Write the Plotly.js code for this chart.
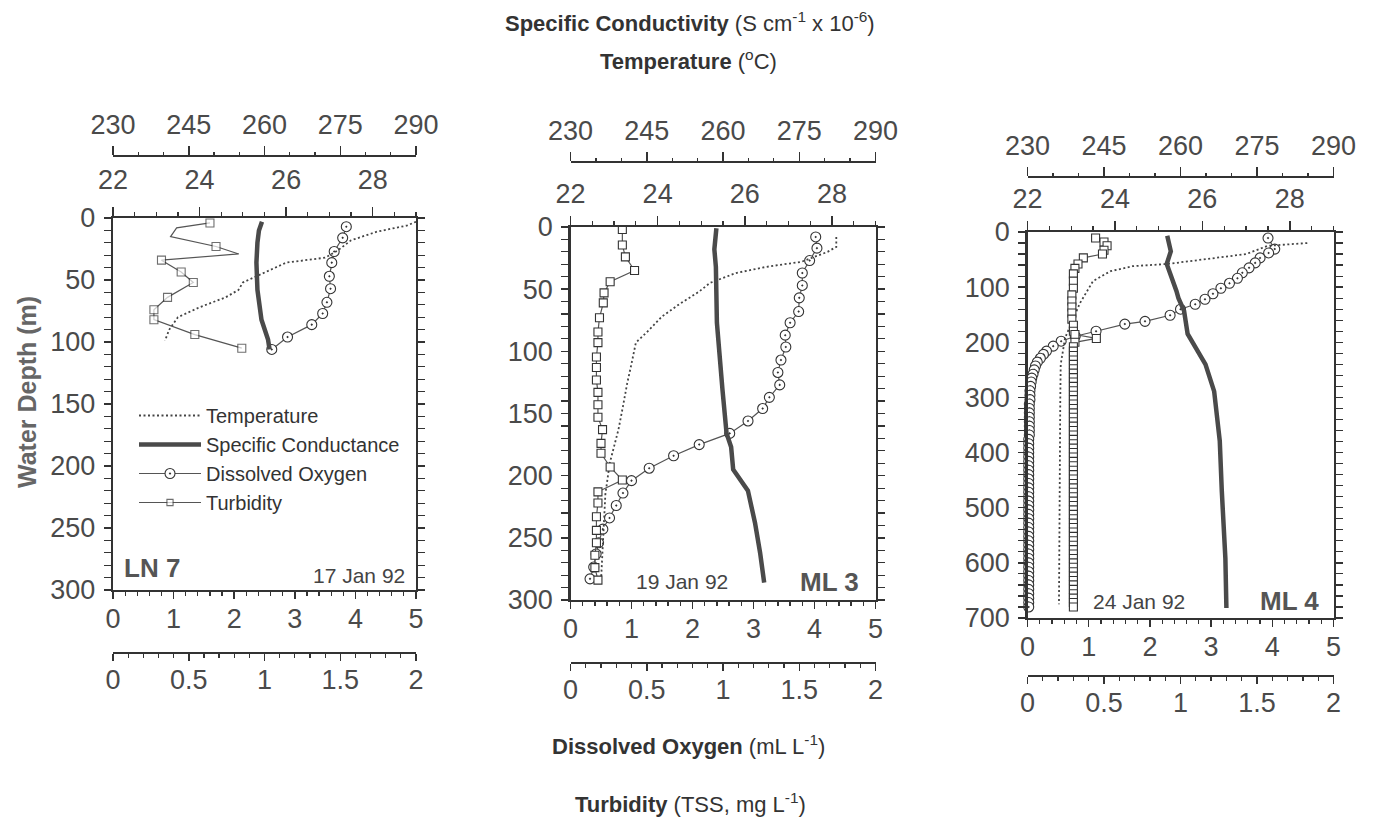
<!DOCTYPE html>
<html><head><meta charset="utf-8">
<script src="https://cdn.plot.ly/plotly-3.0.1.min.js"></script>
<style>html,body{margin:0;padding:0;background:#fff}#chart{width:1377px;height:834px}</style>
</head><body><div id="chart"></div>
<script>
// ---------------- DATA ----------------
// LN 7 (17 Jan 92)
const ln7TempDepth = [3, 6, 11, 18, 26, 32, 36, 44, 52, 58, 64, 72, 80, 90, 99];
const ln7Temp      = [29.0, 28.8, 28.1, 27.5, 27.2, 26.9, 26.0, 25.5, 25.0, 24.9, 24.6, 24.0, 23.5, 23.3, 23.2];
const ln7CondDepth = [3, 10, 20, 36, 58, 82, 98, 106];
const ln7Cond      = [259.5, 258.9, 258.6, 258.4, 258.6, 259.4, 260.7, 261.0];
const ln7DODepth   = [7, 16, 27, 36, 47, 57, 68, 77, 86, 96, 106];
const ln7DO        = [3.85, 3.79, 3.65, 3.61, 3.57, 3.59, 3.53, 3.46, 3.28, 2.88, 2.62];
const ln7TurbDepth = [4, 8, 15, 23, 29, 34, 43.5, 52, 64, 74, 82, 94, 105];
const ln7Turb      = [0.64, 0.42, 0.38, 0.68, 0.83, 0.32, 0.45, 0.53, 0.36, 0.27, 0.27, 0.54, 0.85];
const ln7TurbSampled = [1, 0, 0, 1, 0, 1, 1, 1, 1, 1, 1, 1, 1];

// ML 3 (19 Jan 92)
const ml3TempDepth = [8, 16, 20, 28, 32, 37, 45, 52, 62, 72, 83, 93, 110, 126, 145, 163, 190, 215, 250, 285];
const ml3Temp      = [28.1, 28.1, 27.9, 27.3, 26.5, 25.8, 25.2, 24.95, 24.5, 24.1, 23.8, 23.5, 23.4, 23.3, 23.2, 23.1, 22.9, 22.8, 22.75, 22.7];
const ml3CondDepth = [1, 18, 32, 51, 77, 131, 166, 177, 195, 212, 238, 262, 286];
const ml3Cond      = [258.7, 258.3, 258.6, 258.6, 258.8, 259.9, 260.7, 261.6, 262.0, 264.9, 266.3, 267.3, 268.1];
const ml3DODepth   = [8, 17, 27, 37, 47, 57, 68, 77, 87, 96.5, 107, 117, 127, 137, 146, 156, 166, 175, 184, 194, 204, 214, 224, 234, 243, 254, 263, 273.5, 283];
const ml3DO        = [4.02, 4.04, 3.92, 3.80, 3.80, 3.75, 3.74, 3.60, 3.52, 3.53, 3.45, 3.40, 3.43, 3.26, 3.15, 2.91, 2.61, 2.11, 1.69, 1.29, 1.00, 0.86, 0.75, 0.64, 0.53, 0.46, 0.42, 0.38, 0.32];
const ml3TurbDepth = [2, 14.5, 24, 35, 44, 53, 61, 73, 84.5, 93, 104.5, 113, 123, 133, 143, 153, 163, 174, 182, 193, 203.5, 213, 222, 233, 244, 254, 264, 274, 284];
const ml3Turb      = [0.34, 0.34, 0.36, 0.42, 0.26, 0.22, 0.215, 0.19, 0.18, 0.18, 0.17, 0.17, 0.17, 0.18, 0.18, 0.18, 0.21, 0.20, 0.20, 0.26, 0.34, 0.18, 0.18, 0.17, 0.17, 0.17, 0.16, 0.16, 0.18];

// ML 4 (24 Jan 92)
const ml4TempDepth = [20, 25, 40, 49, 58, 62, 71, 89, 129, 192, 240, 300, 400, 500, 600, 675];
const ml4Temp      = [28.4, 27.5, 27.0, 26.1, 25.2, 24.4, 23.9, 23.5, 23.2, 22.86, 22.76, 22.75, 22.74, 22.73, 22.73, 22.72];
const ml4CondDepth = [7, 35, 58, 84, 107, 120, 143, 185, 210, 240, 289, 379, 470, 592, 682];
const ml4Cond      = [257.4, 258.1, 257.3, 258.4, 259.2, 259.6, 260.7, 261.4, 263.0, 264.9, 266.6, 267.7, 268.1, 268.8, 269.0];
const ml4DODepth   = [11, 31, 38, 47, 56, 65, 74, 84, 93, 102, 112, 122, 131, 140, 151, 162, 167, 180, 189, 198,
                      207, 216, 222, 229, 236, 243, 250, 258, 265, 272, 280, 288,
                      296, 304, 312, 320, 328, 336, 344, 352, 360, 368, 376, 384, 392, 400, 408, 416, 424, 432,
                      440, 448, 456, 464, 472, 480, 488, 496, 504, 512, 520, 528, 536, 544, 552, 560, 568, 576,
                      584, 592, 600, 608, 616, 624, 632, 640, 648, 656, 664, 672, 680];
const ml4DO        = [3.93, 4.04, 3.94, 3.80, 3.72, 3.62, 3.51, 3.43, 3.30, 3.16, 3.03, 2.90, 2.74, 2.50, 2.33, 1.92, 1.59, 1.12, 0.78, 0.55,
                      0.42, 0.31, 0.26, 0.21, 0.16, 0.13, 0.11, 0.09, 0.07, 0.06, 0.05, 0.04,
                      0.04, 0.04, 0.03, 0.03, 0.03, 0.03, 0.03, 0.03, 0.03, 0.03, 0.02, 0.02, 0.02, 0.02, 0.02, 0.02, 0.02, 0.02,
                      0.02, 0.02, 0.02, 0.02, 0.02, 0.02, 0.02, 0.02, 0.02, 0.02, 0.02, 0.02, 0.02, 0.02, 0.02, 0.02, 0.02, 0.02,
                      0.02, 0.02, 0.02, 0.02, 0.02, 0.02, 0.02, 0.02, 0.02, 0.02, 0.02, 0.02, 0.02];
const ml4TurbDepth = [11, 18, 25, 33, 40, 47, 58, 66, 76, 89, 102, 114, 125, 136, 147, 158, 169, 180, 186, 193,
                      200, 208, 216, 224, 232, 240, 248, 256, 264, 272, 280, 288,
                      296, 304, 312, 320, 328, 336, 344, 352, 360, 368, 376, 384, 392, 400, 408, 416, 424, 432,
                      440, 448, 456, 464, 472, 480, 488, 496, 504, 512, 520, 528, 536, 544, 552, 560, 568, 576,
                      584, 592, 600, 608, 616, 624, 632, 640, 648, 656, 664, 672, 680];
const ml4Turb      = [0.445, 0.50, 0.52, 0.50, 0.49, 0.365, 0.33, 0.31, 0.30, 0.30, 0.30, 0.29, 0.29, 0.29, 0.29, 0.29, 0.30, 0.30, 0.31, 0.45,
                      0.31, 0.30, 0.30, 0.30, 0.30, 0.30, 0.30, 0.30, 0.30, 0.30, 0.30, 0.30,
                      0.30, 0.30, 0.30, 0.30, 0.30, 0.30, 0.30, 0.30, 0.30, 0.30, 0.30, 0.30, 0.30, 0.30, 0.30, 0.30, 0.30, 0.30,
                      0.30, 0.30, 0.30, 0.30, 0.30, 0.30, 0.30, 0.30, 0.30, 0.30, 0.30, 0.30, 0.30, 0.30, 0.30, 0.30, 0.30, 0.30,
                      0.30, 0.30, 0.30, 0.30, 0.30, 0.30, 0.30, 0.30, 0.30, 0.30, 0.30, 0.30, 0.30];

const stationNames = ['LN 7', 'ML 3', 'ML 4'];
const stationDates = ['17 Jan 92', '19 Jan 92', '24 Jan 92'];
const legendNames  = ['Temperature', 'Specific Conductance', 'Dissolved Oxygen', 'Turbidity'];
const depthMax     = [300, 300, 700];

// ---------------- LAYOUT ----------------
const W = 1377, H = 834;
const fx = p => p / W;
const fy = p => 1 - p / H;
const FONT = '"Liberation Sans", Arial, Helvetica, sans-serif';
const INK = '#333';
const LBL = '#4a4a4a';

const geo = [
  {x0: 113,   x1: 416,   y0: 218, y1: 590, ydt: 50,  ymn: 10, condY: 156, turbY: 653,
   nameX: 122, nameY: 568, dateX: 407, dateY: 575, nameAnchor: 'left', dateAnchor: 'right'},
  {x0: 570.5, x1: 875.5, y0: 227, y1: 600, ydt: 50,  ymn: 10, condY: 162, turbY: 663,
   nameX: 861, nameY: 582, dateX: 634, dateY: 581, nameAnchor: 'right', dateAnchor: 'left'},
  {x0: 1027.5,x1: 1333.5,y0: 232, y1: 618, ydt: 100, ymn: 20, condY: 177, turbY: 676,
   nameX: 1321, nameY: 601, dateX: 1091, dateY: 601, nameAnchor: 'right', dateAnchor: 'left'}
];

function mkAxis(o) {
  const minor = {ticks: 'outside', ticklen: 3.5, tickcolor: INK, tickwidth: 1.2, showgrid: false, dtick: o.minorDtick};
  const a = {
    showline: true, linecolor: INK, linewidth: 2.2,
    ticks: 'outside', tickcolor: INK, tickwidth: 1.5, ticklen: 7,
    showgrid: false, zeroline: false, fixedrange: true,
    tickfont: {family: FONT, size: 27, color: LBL},
    minor: minor
  };
  delete o.minorDtick;
  return Object.assign(a, o);
}

const layout = {
  width: W, height: H,
  margin: {l: 0, r: 0, t: 0, b: 0},
  paper_bgcolor: '#fff', plot_bgcolor: 'rgba(0,0,0,0)',
  font: {family: FONT, color: INK},
  showlegend: true,
  legend: {x: fx(134), y: fy(396), xanchor: 'left', yanchor: 'top', bgcolor: 'rgba(0,0,0,0)',
           font: {family: FONT, size: 20, color: '#333'}, itemwidth: 62, tracegroupgap: 0},
  annotations: []
};

geo.forEach((g, i) => {
  const n = 4 * i;
  const xid = k => (k === 1 ? 'x' : 'x' + k);
  const xkey = k => (k === 1 ? 'xaxis' : 'xaxis' + k);
  const yid = i === 0 ? 'y' : 'y' + (i + 1);
  const ykey = i === 0 ? 'yaxis' : 'yaxis' + (i + 1);
  const dom = [fx(g.x0), fx(g.x1)];
  const base = xid(n + 1);

  layout[xkey(n + 1)] = mkAxis({domain: dom, anchor: yid, side: 'bottom', range: [0, 5], tick0: 0, dtick: 1,
                                minorDtick: 0.2, ticklabelstandoff: -4});
  layout[xkey(n + 2)] = mkAxis({domain: dom, anchor: yid, overlaying: base, side: 'top', range: [22, 29],
                                tick0: 22, dtick: 2, minorDtick: 0.5, ticklen: 9, ticklabelstandoff: i === 0 ? 7 : 2});
  layout[xkey(n + 3)] = mkAxis({domain: dom, anchor: 'free', position: fy(g.condY), overlaying: base, side: 'top',
                                range: [230, 290], tick0: 230, dtick: 15, minorDtick: 5, ticklen: 9, ticklabelstandoff: 1});
  layout[xkey(n + 4)] = mkAxis({domain: dom, anchor: 'free', position: fy(g.turbY), overlaying: base, side: 'bottom',
                                range: [0, 2], tick0: 0, dtick: 0.5, minorDtick: 0.1, ticklabelstandoff: -5});
  layout[ykey] = mkAxis({domain: [fy(g.y1), fy(g.y0)], anchor: base, range: [depthMax[i], 0],
                         tick0: 0, dtick: g.ydt, minorDtick: g.ymn, mirror: 'allticks', ticklabelstandoff: 3});

  layout.annotations.push({text: '<b>' + stationNames[i] + '</b>', x: fx(g.nameX), y: fy(g.nameY),
    xref: 'paper', yref: 'paper', showarrow: false, xanchor: g.nameAnchor, yanchor: 'middle',
    font: {family: FONT, size: 26, color: '#555'}});
  layout.annotations.push({text: stationDates[i], x: fx(g.dateX), y: fy(g.dateY),
    xref: 'paper', yref: 'paper', showarrow: false, xanchor: g.dateAnchor, yanchor: 'middle',
    font: {family: FONT, size: 21, color: '#444'}});
});

const titles = [
  {t: '<b>Specific Conductivity</b> (S cm<sup>-1</sup> x 10<sup>-6</sup>)', x: 690, y: 22},
  {t: '<b>Temperature</b> (<sup>o</sup>C)', x: 688, y: 60},
  {t: '<b>Dissolved Oxygen</b> (mL L<sup>-1</sup>)', x: 688, y: 745},
  {t: '<b>Turbidity</b> (TSS, mg L<sup>-1</sup>)', x: 690, y: 803}
];
titles.forEach(o => layout.annotations.push({text: o.t, x: fx(o.x), y: fy(o.y), xref: 'paper', yref: 'paper',
  showarrow: false, xanchor: 'center', yanchor: 'middle', font: {family: FONT, size: 22, color: '#333'}}));
layout.annotations.push({text: '<b>Water Depth (m)</b>', x: fx(27), y: fy(392), xref: 'paper', yref: 'paper',
  showarrow: false, textangle: -90, xanchor: 'center', yanchor: 'middle', font: {family: FONT, size: 25, color: '#666'}});

// ---------------- TRACES ----------------
const sets = [
  {tD: ln7TempDepth, t: ln7Temp, cD: ln7CondDepth, c: ln7Cond, oD: ln7DODepth, o: ln7DO, uD: ln7TurbDepth, u: ln7Turb, us: ln7TurbSampled},
  {tD: ml3TempDepth, t: ml3Temp, cD: ml3CondDepth, c: ml3Cond, oD: ml3DODepth, o: ml3DO, uD: ml3TurbDepth, u: ml3Turb, us: null},
  {tD: ml4TempDepth, t: ml4Temp, cD: ml4CondDepth, c: ml4Cond, oD: ml4DODepth, o: ml4DO, uD: ml4TurbDepth, u: ml4Turb, us: null}
];

const traces = [];
sets.forEach((s, i) => {
  const n = 4 * i;
  const xid = k => (k === 1 ? 'x' : 'x' + k);
  const yid = i === 0 ? 'y' : 'y' + (i + 1);
  const leg = i === 0;
  traces.push({type: 'scatter', mode: 'lines', name: legendNames[0], showlegend: leg,
    x: s.t, y: s.tD, xaxis: xid(n + 2), yaxis: yid,
    line: {color: '#444', width: 1.8, dash: '2px,2.5px'}, hoverinfo: 'skip'});
  traces.push({type: 'scatter', mode: 'lines', name: legendNames[1], showlegend: leg,
    x: s.c, y: s.cD, xaxis: xid(n + 3), yaxis: yid,
    line: {color: '#4a4a4a', width: 4.5}, hoverinfo: 'skip'});
  traces.push({type: 'scatter', mode: 'lines+markers', name: legendNames[2], showlegend: leg,
    x: s.o, y: s.oD, xaxis: xid(n + 1), yaxis: yid, cliponaxis: false,
    line: {color: '#555', width: 1.2},
    marker: {symbol: 'circle-dot', size: 10, color: '#fff', line: {color: '#333', width: 1.1}}, hoverinfo: 'skip'});
  traces.push({type: 'scatter', mode: 'lines+markers', name: legendNames[3], showlegend: leg,
    x: s.u, y: s.uD, xaxis: xid(n + 4), yaxis: yid, cliponaxis: false,
    line: {color: '#555', width: 1.2},
    marker: {symbol: 'square', size: s.us ? s.us.map(f => f ? 8 : 0) : 8, color: '#fff', line: {color: '#333', width: 1.1}},
    hoverinfo: 'skip'});
});

Plotly.newPlot('chart', traces, layout, {displayModeBar: false, staticPlot: true});
</script></body></html>
